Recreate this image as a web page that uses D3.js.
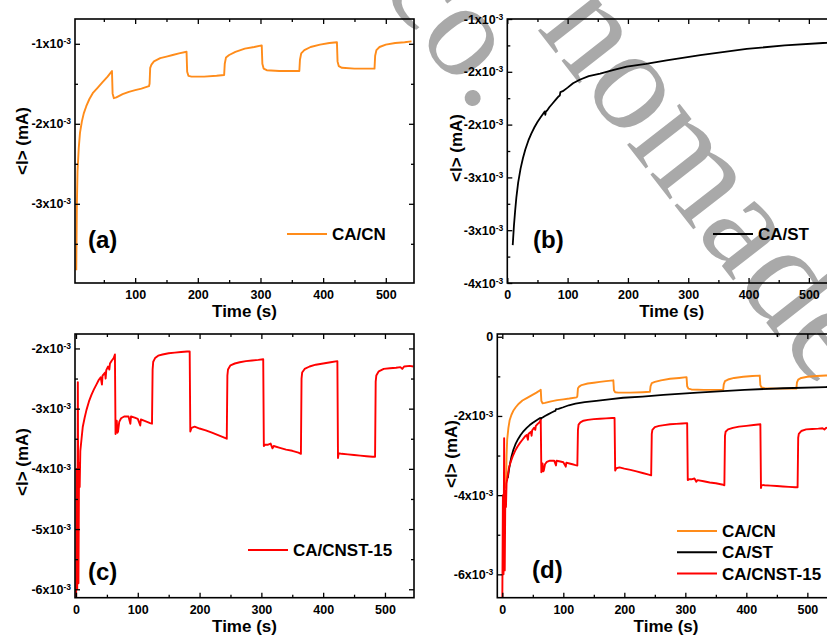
<!DOCTYPE html>
<html><head><meta charset="utf-8">
<script src="https://cdn.jsdelivr.net/npm/d3@7"></script>
<style>
body{margin:0;background:#fff}
svg{display:block}
text{font-family:"Liberation Sans",Arial,sans-serif;font-weight:bold;fill:#000}
</style>
</head><body>
<svg id="chart" width="827" height="637"></svg>
<script>
// ---------------- data (current in units of 1e-3 mA, time in s) ----------------
const caCN = [[6,-3.83],[7,-3.0],[8,-2.6],[10,-2.3],[12,-2.11],[15,-1.97],[18,-1.87],[22,-1.78],[27,-1.69],[33,-1.61],[40,-1.55],[48,-1.48],[56,-1.41],[62,-1.35],[63,-1.34],
[64,-1.62],[66,-1.68],[70,-1.67],[80,-1.63],[90,-1.60],[100,-1.58],[110,-1.56],[122,-1.53],
[123,-1.50],[124,-1.30],[126,-1.26],[130,-1.22],[140,-1.18],[150,-1.16],[160,-1.14],[170,-1.12],[182,-1.10],
[183,-1.35],[185,-1.40],[190,-1.41],[210,-1.41],[230,-1.40],[242,-1.39],
[243,-1.25],[245,-1.17],[250,-1.14],[260,-1.10],[275,-1.06],[290,-1.04],[302,-1.02],
[303,-1.25],[305,-1.31],[310,-1.33],[330,-1.34],[350,-1.34],[362,-1.34],
[363,-1.20],[365,-1.12],[370,-1.08],[380,-1.04],[395,-1.01],[410,-0.99],[422,-0.98],
[423,-1.22],[425,-1.28],[430,-1.30],[450,-1.31],[470,-1.31],[482,-1.31],
[483,-1.15],[485,-1.08],[490,-1.04],[500,-1.01],[515,-0.99],[530,-0.98],[541,-0.97]];

const caST = [[9,-3.57],[11,-3.35],[13,-3.18],[15,-3.03],[18,-2.86],[22,-2.70],[26,-2.58],[30,-2.48],[35,-2.38],[40,-2.30],[45,-2.23],[50,-2.17],[55,-2.12],[60,-2.07],[62,-2.05],[63,-2.09],[64,-2.05],[66,-2.04],[70,-2.00],[75,-1.96],[80,-1.92],[85,-1.88],[87,-1.87],[88,-1.83],[92,-1.82],[100,-1.78],[109,-1.73],[120,-1.69],[135,-1.65],[154,-1.62],[175,-1.58],[198,-1.54],[230,-1.51],[264,-1.47],[320,-1.41],[397,-1.34],[460,-1.30],[530,-1.27],[545,-1.26]];

const caCNST15 = [[0,-6.7],[1,-4.0],[2,-6.0],[3,-2.56],[4,-5.9],[5,-3.9],[6,-4.3],[7,-3.7],[9,-3.5],[11,-3.3],[14,-3.15],[17,-3.02],[21,-2.88],[25,-2.77],[29,-2.68],[33,-2.60],[37,-2.52],[40,-2.48],[42,-2.60],[43,-2.45],[47,-2.40],[48,-2.50],[49,-2.36],[52,-2.30],[54,-2.35],[55,-2.25],[58,-2.20],[61,-2.16],[63,-2.10],
[64,-3.42],[65,-3.30],[66,-3.20],[67,-3.40],[68,-3.38],[70,-3.22],[73,-3.16],[78,-3.13],[85,-3.13],[88,-3.25],[89,-3.13],[95,-3.15],[100,-3.17],[104,-3.28],[105,-3.18],[110,-3.20],[115,-3.22],[120,-3.24],[123,-3.25],
[124,-2.35],[125,-2.22],[128,-2.16],[133,-2.12],[140,-2.10],[150,-2.08],[160,-2.07],[170,-2.06],[180,-2.05],[184,-2.05],
[185,-3.38],[187,-3.32],[192,-3.30],[200,-3.33],[210,-3.36],[220,-3.40],[230,-3.44],[240,-3.48],[244,-3.50],
[245,-2.45],[246,-2.35],[250,-2.28],[257,-2.25],[265,-2.23],[275,-2.21],[285,-2.20],[295,-2.19],[303,-2.18],
[304,-3.62],[306,-3.60],[310,-3.60],[315,-3.58],[318,-3.66],[320,-3.62],[330,-3.65],[340,-3.68],[350,-3.70],[360,-3.73],[364,-3.75],
[365,-2.50],[366,-2.40],[370,-2.34],[378,-2.30],[388,-2.27],[400,-2.25],[412,-2.23],[423,-2.21],
[424,-3.82],[425,-3.74],[430,-3.75],[440,-3.76],[450,-3.77],[460,-3.78],[470,-3.79],[480,-3.80],[484,-3.80],
[485,-2.55],[486,-2.45],[490,-2.38],[498,-2.34],[508,-2.33],[518,-2.32],[525,-2.31],[528,-2.34],[531,-2.30],[540,-2.29],[546,-2.30]];

const seriesNames = ["CA/CN","CA/ST","CA/CNST-15"];
const seriesColors = ["#ff8c1a","#000000","#ff0000"];

const timeMajor = [0,100,200,300,400,500];
const timeMinor = [50,150,250,350,450,550];

const aYMajor = [-1,-2,-3];           const aYMinor = [-1.5,-2.5,-3.5];
const aYLabels = ["-1","-2","-3"];
const bYMajor = [-1,-1.6,-2.2,-2.8,-3.4,-4]; const bYMinor = [-1.3,-1.9,-2.5,-3.1,-3.7];
const bYLabels = ["-1","-2","-2","-3","-3","-4"];
const cYMajor = [-2,-3,-4,-5,-6];     const cYMinor = [-2.5,-3.5,-4.5,-5.5];
const cYLabels = ["-2","-3","-4","-5","-6"];
const dYMajor = [0,-2,-4,-6];         const dYMinor = [-1,-3,-5];
const dYLabels = ["0","-2","-4","-6"];

const panelLetters = ["(a)","(b)","(c)","(d)"];
const xTitle = "Time (s)";
const yTitle = "<I> (mA)";
const watermark1 = "co.";
const watermark2 = "nomadev";

// ---------------- layout ----------------
const svg = d3.select("#chart");
const FONT = '"Liberation Sans",Arial,sans-serif';

// watermark (behind the charts)
const wm = svg.append("g");
[[watermark1,379,-12,135],[watermark2,536,28,145]].forEach(([s,tx,ty,fs])=>{
  wm.append("text").attr("transform",`translate(${tx},${ty}) rotate(52)`)
    .style("font-family",'"Liberation Serif","Times New Roman",serif')
    .style("font-size",fs+"px").style("font-weight","normal").style("fill","#a9a9a9").text(s);
});

const panels = [
  {L:75, T:19, R:414, B:283, xd:[4,545], yd:[-3.99,-0.69], yMaj:aYMajor, yMin:aYMinor, yLab:aYLabels,
   series:[0], letter:[88,248], yt:[28,141], leg:[287,234]},
  {L:507.3, T:19, R:836, B:283, xd:[0,545], yd:[-4,-1], yMaj:bYMajor, yMin:bYMinor, yLab:bYLabels,
   series:[1], letter:[533,248], yt:[462,148], leg:[713,234]},
  {L:75, T:334, R:414, B:597.7, xd:[-1.6,547], yd:[-6.14,-1.76], yMaj:cYMajor, yMin:cYMinor, yLab:cYLabels,
   series:[2], letter:[88,580], yt:[28,462], leg:[248,550]},
  {L:497.3, T:334, R:834.8, B:597.7, xd:[-8.2,545], yd:[-6.59,0.07], yMaj:dYMajor, yMin:dYMinor, yLab:dYLabels,
   series:[0,1,2], letter:[532,578], yt:[457,454], leg:[677,531], legStep:21.3}
];
const allSeries = [caCN, caST, caCNST15];

panels.forEach((p,pi)=>{
  const w = p.R-p.L, h = p.B-p.T;
  const x = d3.scaleLinear().domain(p.xd).range([0,w]);
  const y = d3.scaleLinear().domain(p.yd).range([h,0]);
  const g = svg.append("g").attr("transform",`translate(${p.L},${p.T})`);

  const cid = "clip"+pi;
  g.append("clipPath").attr("id",cid).append("rect").attr("width",w).attr("height",h);

  const line = d3.line().x(d=>x(d[0])).y(d=>y(d[1]));
  const lg = g.append("g").attr("clip-path",`url(#${cid})`);
  p.series.forEach(si=>{
    lg.append("path").datum(allSeries[si]).attr("d",line)
      .attr("fill","none").attr("stroke",seriesColors[si])
      .attr("stroke-width",si===1?1.8:1.9).attr("stroke-linejoin","round");
  });

  const xMaj = timeMajor.filter(v=>v>=p.xd[0]&&v<=p.xd[1]);
  const xMin = timeMinor.filter(v=>v>=p.xd[0]&&v<=p.xd[1]);

  g.append("g").attr("transform",`translate(0,${h})`)
    .call(d3.axisBottom(x).tickValues(xMaj).tickSizeInner(-5).tickSizeOuter(0).tickPadding(7).tickFormat(d3.format("d")));
  g.append("g").attr("transform",`translate(0,${h})`)
    .call(d3.axisBottom(x).tickValues(xMin).tickSizeInner(-3).tickSizeOuter(0).tickFormat(""));
  g.append("g").call(d3.axisTop(x).tickValues(xMaj).tickSizeInner(-5).tickSizeOuter(0).tickFormat(""));
  g.append("g").call(d3.axisTop(x).tickValues(xMin).tickSizeInner(-3).tickSizeOuter(0).tickFormat(""));
  const lAx = g.append("g")
    .call(d3.axisLeft(y).tickValues(p.yMaj).tickSizeInner(-5).tickSizeOuter(0).tickPadding(4).tickFormat((d,i)=>p.yLab[i]));
  g.append("g").call(d3.axisLeft(y).tickValues(p.yMin).tickSizeInner(-3).tickSizeOuter(0).tickFormat(""));
  g.append("g").attr("transform",`translate(${w},0)`)
    .call(d3.axisRight(y).tickValues(p.yMaj).tickSizeInner(-5).tickSizeOuter(0).tickFormat(""));
  g.append("g").attr("transform",`translate(${w},0)`)
    .call(d3.axisRight(y).tickValues(p.yMin).tickSizeInner(-3).tickSizeOuter(0).tickFormat(""));

  g.selectAll(".domain").remove();
  g.selectAll(".tick line").attr("stroke","#000").attr("stroke-width",1.3);
  g.selectAll(".tick text").attr("font-family",FONT).attr("font-weight","bold").attr("font-size",12.5).attr("fill","#000");

  lAx.selectAll(".tick text").each(function(d,i){
    const t = d3.select(this);
    const lab = p.yLab[i];
    t.text(null);
    if(lab==="0"){ t.text("0"); return; }
    t.append("tspan").text(lab+"x10");
    t.append("tspan").attr("dy","-0.45em").attr("font-size","8.5px").text("-3");
  });

  g.append("rect").attr("width",w).attr("height",h).attr("fill","none")
    .attr("stroke","#000").attr("stroke-width",1.6);

  g.append("text").attr("x",w/2).attr("y",h+34).attr("text-anchor","middle")
    .attr("font-size",17).text(xTitle);
  svg.append("text").attr("transform",`translate(${p.yt[0]},${p.yt[1]}) rotate(-90)`)
    .attr("text-anchor","middle").attr("font-size",17).text(yTitle);

  svg.append("text").attr("x",p.letter[0]).attr("y",p.letter[1]).attr("font-size",24).text(panelLetters[pi]);

  const step = p.legStep||0;
  p.series.forEach((si,k)=>{
    const ly = p.leg[1]+k*step;
    svg.append("line").attr("x1",p.leg[0]).attr("x2",p.leg[0]+40).attr("y1",ly).attr("y2",ly)
      .attr("stroke",seriesColors[si]).attr("stroke-width",2);
    svg.append("text").attr("x",p.leg[0]+45).attr("y",ly+6).attr("font-size",17).text(seriesNames[si]);
  });
});
</script>
</body></html>
